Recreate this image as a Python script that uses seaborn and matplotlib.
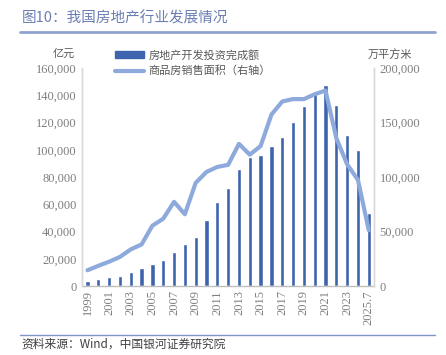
import seaborn as sns
import matplotlib.pyplot as plt
import matplotlib.ticker as mticker
from matplotlib.lines import Line2D
import numpy as np

sns.set_style("white")
plt.rcParams['font.family'] = ['Noto Sans CJK SC', 'DejaVu Sans']

# 年份（2025.7 为1-7月累计）
years = [str(y) for y in range(1999, 2025)] + ['2025.7']

# 房地产开发投资完成额（亿元，左轴）
invest = [4103, 4984, 6344, 7791, 10154, 13158, 15909, 19423, 25289, 31203,
          36242, 48259, 61797, 71804, 86013, 95036, 95979, 102581, 109799,
          120264, 132194, 141443, 147602, 132895, 110913, 100280, 53580]

# 商品房销售面积（万平方米，右轴）
area = [14557, 18637, 22412, 26808, 33718, 38232, 55486, 61857, 77355, 65970,
        94755, 104765, 109366, 111304, 130551, 120649, 128495, 157349, 169408,
        171654, 171558, 176086, 179433, 135837, 111735, 97385, 51260]

bar_color = '#3D64AD'
line_color = '#8EAADC'
tick_color = '#7F7F7F'
num_font = 'Liberation Serif'

fig = plt.figure(figsize=(4.46, 3.55), dpi=100)
ax = fig.add_axes([0.184, 0.194, 0.655, 0.614])

sns.barplot(x=years, y=invest, ax=ax, color=bar_color, width=0.4,
            saturation=1, label='房地产开发投资完成额')
ax.set_xlim(-0.5, len(years) - 0.5)
ax.set_ylim(0, 160000)
ax.set_yticks(np.arange(0, 160001, 20000))
ax.yaxis.set_major_formatter(mticker.FuncFormatter(lambda v, p: f'{int(v):,}'))

ax2 = ax.twinx()
sns.lineplot(x=np.arange(len(years)), y=area, ax=ax2, color=line_color,
             linewidth=3, label='商品房销售面积（右轴）', legend=False)
ax2.set_ylim(0, 200000)
ax2.set_yticks(np.arange(0, 200001, 50000))
ax2.yaxis.set_major_formatter(mticker.FuncFormatter(lambda v, p: f'{int(v):,}'))

ax.set_xticks(range(0, len(years), 2))
ax.set_xticklabels(years[::2], rotation=90)

for a in (ax, ax2):
    a.set_xlabel('')
    a.set_ylabel('')
    a.tick_params(length=0, colors=tick_color, labelsize=9, pad=4)
    for lab in a.get_xticklabels() + a.get_yticklabels():
        lab.set_fontfamily(num_font)
    for s in ('top',):
        a.spines[s].set_visible(False)
    for s in ('left', 'right', 'bottom'):
        a.spines[s].set_color('#D9D9D9')
        a.spines[s].set_linewidth(1)
ax.spines['bottom'].set_color('#BFBFBF')
ax2.spines['bottom'].set_visible(False)
ax.tick_params(axis='x', pad=3)

if ax.get_legend() is not None:
    ax.get_legend().remove()
handles = [plt.Rectangle((0, 0), 1, 1, color=bar_color),
           Line2D([0], [0], color=line_color, linewidth=3)]
fig.legend(handles, ['房地产开发投资完成额', '商品房销售面积（右轴）'],
           loc='upper left', bbox_to_anchor=(0.245, 0.875), frameon=False,
           fontsize=8, labelcolor='#595959', handlelength=2.6, handleheight=0.6,
           handletextpad=0.4, labelspacing=0.45, borderpad=0)

# 单位
fig.text(0.118, 0.848, '亿元', fontsize=8, color='#595959', va='center')
fig.text(0.825, 0.848, '万平方米', fontsize=8, color='#595959', va='center')

# 标题与分隔线
fig.text(0.049, 0.949, '图10：我国房地产行业发展情况', fontsize=10.5,
         color='#6A7EB3', va='center')
fig.add_artist(Line2D([0.045, 0.975], [0.910, 0.910], color='#8FA3D0',
                      linewidth=2, transform=fig.transFigure))
fig.add_artist(Line2D([0.045, 0.975], [0.056, 0.056], color='#7F95C8',
                      linewidth=1, transform=fig.transFigure))
fig.text(0.049, 0.012, '资料来源：Wind，中国银河证券研究院', fontsize=8.5,
         color='#404040', style='italic', va='bottom')

fig.savefig('out.png', dpi=100)
